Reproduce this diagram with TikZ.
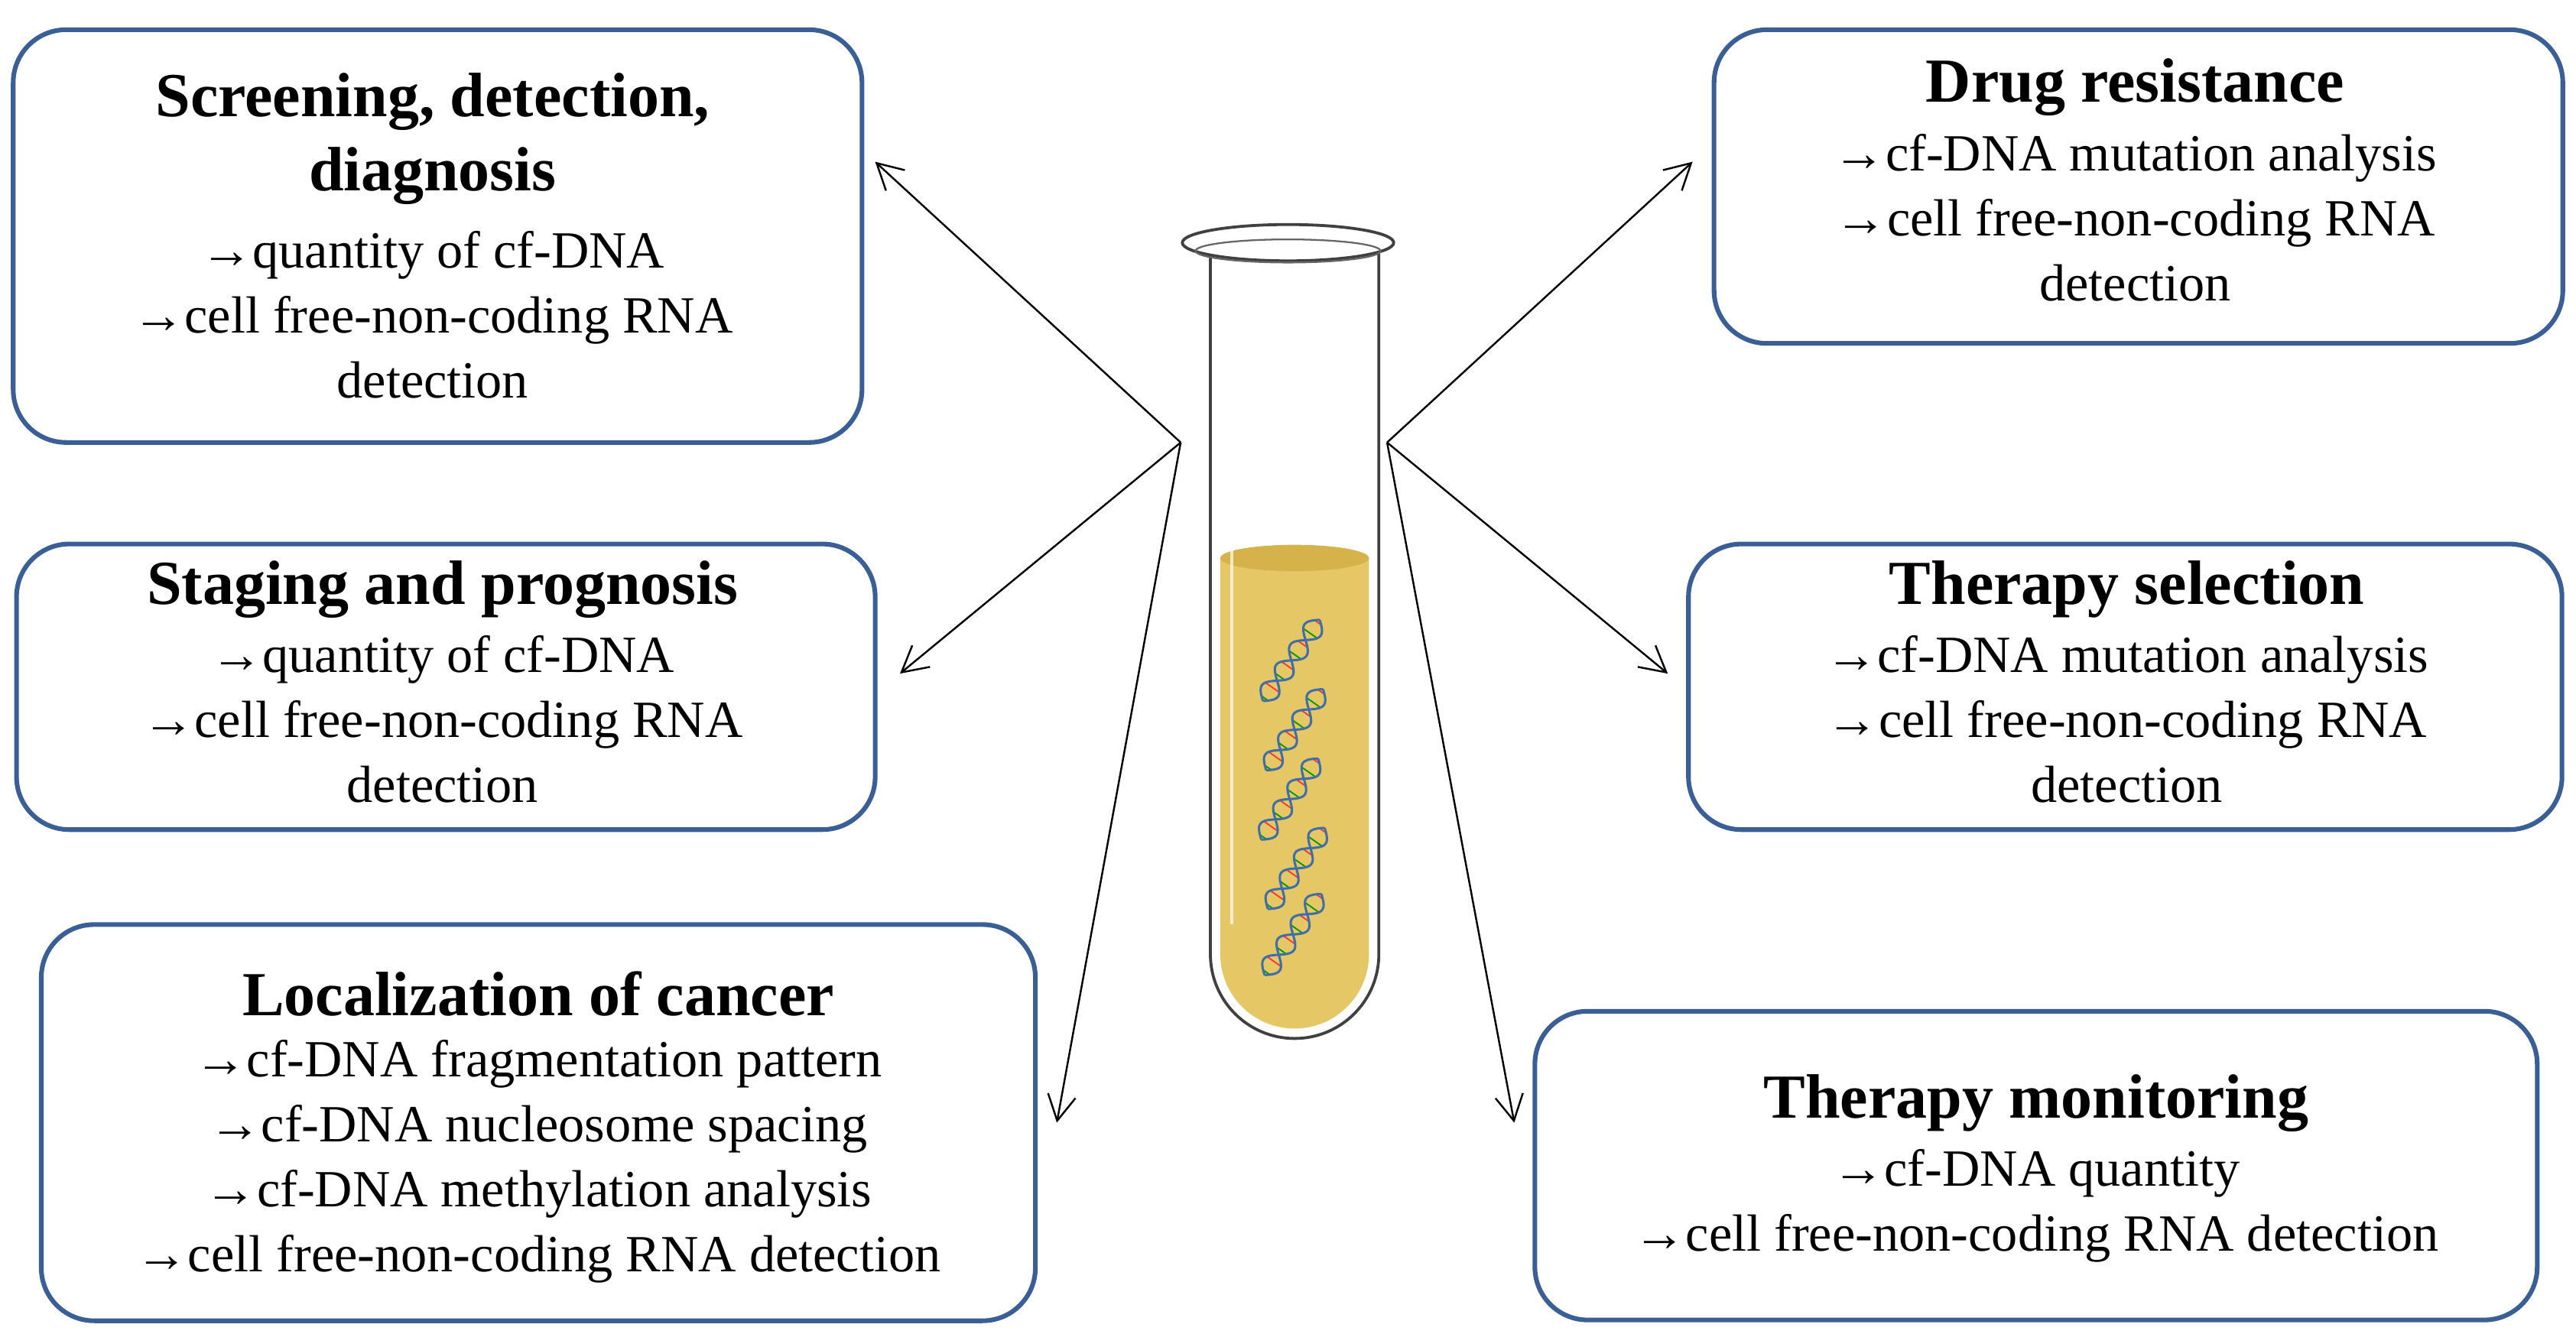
\documentclass[tikz,border=0pt]{standalone}
\usepackage{fontspec}
\setmainfont{Liberation Serif}
\usetikzlibrary{arrows.meta}
\definecolor{boxblue}{HTML}{3A5F96}
\definecolor{liq}{HTML}{E6C766}
\definecolor{liqtop}{HTML}{D6B24A}
\definecolor{dna}{HTML}{3F6FA8}
\begin{document}
\begin{tikzpicture}[x=0.05cm,y=-0.05cm,
  box/.style={draw=boxblue,line width=4pt,rounded corners=1.6cm,fill=white},
  ttl/.style={font=\fontsize{54}{64}\selectfont\bfseries,align=center,inner sep=0},
  txt/.style={font=\fontsize{45}{56}\selectfont,align=center,inner sep=0},
  arr/.style={line width=1.6pt,-{Straight Barb[length=22pt,width=24pt,line width=1.6pt]}}]
\useasboundingbox (0,0) rectangle (1560,808);
% boxes
\node[box,minimum width=514*0.05cm,minimum height=250*0.05cm] (b1) at (265,143) {};
\node[box,minimum width=520*0.05cm,minimum height=173*0.05cm] (b2) at (270,416) {};
\node[box,minimum width=602*0.05cm,minimum height=240*0.05cm] (b3) at (326,680) {};
\node[box,minimum width=514*0.05cm,minimum height=190*0.05cm] (b4) at (1295,113) {};
\node[box,minimum width=529*0.05cm,minimum height=173*0.05cm] (b5) at (1287,416) {};
\node[box,minimum width=607*0.05cm,minimum height=187*0.05cm] (b6) at (1233,706) {};
% texts
\node[ttl] (t1) at (262,84) {Screening, detection,\\diagnosis};
\node[txt,anchor=north] (x1) at (262,140) {→quantity of cf-DNA\\→cell free-non-coding RNA\\detection};
\node[ttl] (t2) at (268,357) {Staging and prognosis};
\node[txt,anchor=north] (x2) at (268,385) {→quantity of cf-DNA\\→cell free-non-coding RNA\\detection};
\node[ttl] (t3) at (326,602) {Localization of cancer};
\node[txt,anchor=north] (x3) at (326,630) {→cf-DNA fragmentation pattern\\→cf-DNA nucleosome spacing\\→cf-DNA methylation analysis\\→cell free-non-coding RNA detection};
\node[ttl] (t4) at (1293,53) {Drug resistance};
\node[txt,anchor=north] (x4) at (1293,81) {→cf-DNA mutation analysis\\→cell free-non-coding RNA\\detection};
\node[ttl] (t5) at (1288,357) {Therapy selection};
\node[txt,anchor=north] (x5) at (1288,385) {→cf-DNA mutation analysis\\→cell free-non-coding RNA\\detection};
\node[ttl] (t6) at (1233,668) {Therapy monitoring};
\node[txt,anchor=north] (x6) at (1233,696) {→cf-DNA quantity\\→cell free-non-coding RNA detection};
% arrows
\coordinate (oL) at (715,268); \coordinate (oR) at (840,268);
\coordinate (e1) at (530,98); \coordinate (e2) at (545,408); \coordinate (e3) at (640,680);
\coordinate (e4) at (1025,98); \coordinate (e5) at (1010,408); \coordinate (e6) at (917,680);
\foreach \e in {e1,e2,e3} \draw[arr] (oL) -- (\e);
\foreach \e in {e4,e5,e6} \draw[arr] (oR) -- (\e);
% tube
\draw[line width=2.5pt,draw=black!75,fill=white] (733,150) -- (733,578) arc[start angle=180,end angle=360,x radius=51,y radius=-51] -- (835,150);
\fill[liq] (739,338) -- (739,578) arc[start angle=180,end angle=360,x radius=45,y radius=-45] -- (829,338) -- cycle;
\fill[liqtop] (784,338) ellipse[x radius=45,y radius=8];
\draw[white,line width=3pt,opacity=0.7] (746,175) -- (746,560);
\draw[line width=2.5pt,draw=black!75,fill=white] (780,147) ellipse[x radius=64,y radius=11];
\draw[line width=1.5pt,draw=black!60] (780,152) ellipse[x radius=56,y radius=7];
% DNA
\foreach \cx/\cy in {782/400, 784/442, 781/484, 785/526, 783/566}{
  \begin{scope}[shift={(\cx,\cy)},rotate=55]
    \foreach \k in {0,...,7}{
      \pgfmathsetmacro{\t}{-30+\k*8+2}
      \pgfmathsetmacro{\yy}{6*sin(\t*12)}
      \ifodd\k \def\cc{red!80}\else\def\cc{green!60!black}\fi
      \draw[\cc,line width=1.2pt] (\t,\yy) -- (\t,-\yy);
    }
    \draw[dna,line width=2pt,domain=-30:30,samples=40] plot (\x,{6*sin(\x*12)});
    \draw[dna,line width=2pt,domain=-30:30,samples=40] plot (\x,{-6*sin(\x*12)});
  \end{scope}
}
\end{tikzpicture}
\end{document}
